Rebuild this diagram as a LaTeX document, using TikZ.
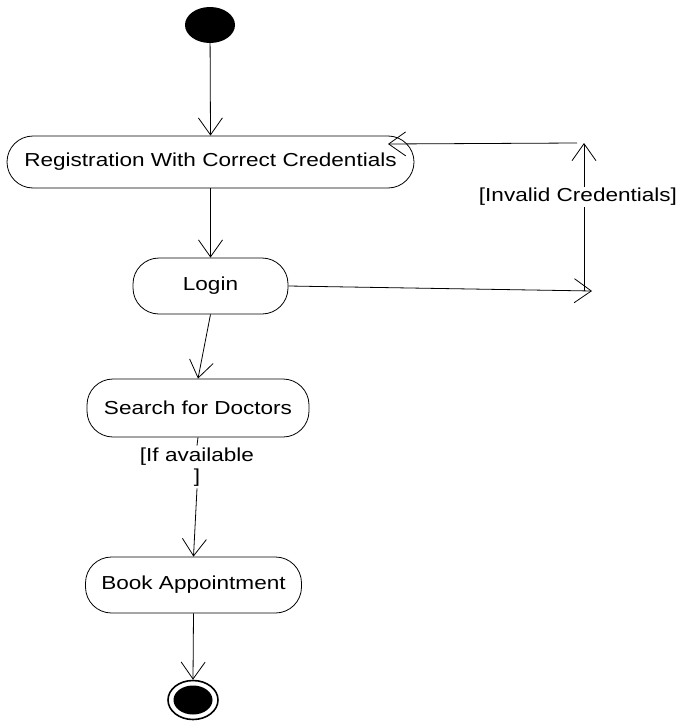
\documentclass[tikz,border=0pt]{standalone}
\usepackage{fontspec}
\setmainfont{Liberation Sans}[FakeStretch=1.2]
\usetikzlibrary{arrows.meta,shapes.geometric}
\begin{document}
\begin{tikzpicture}[x=1pt,y=-1pt,
  txt/.style={font=\fontsize{18.8}{21}\selectfont},
  act/.style={draw, line width=0.8pt, rounded corners=26pt, inner sep=0pt, txt},
  arr/.style={line width=0.8pt, -{Straight Barb[length=17pt,width=24pt,line width=0.8pt]}},
  ln/.style={line width=0.8pt}]
\useasboundingbox (0,0) rectangle (684,725);
% start / end
\node[fill=black, ellipse, minimum width=50pt, minimum height=36pt, inner sep=0pt] (start) at (210,25) {};
\node[act, minimum width=407pt, minimum height=52pt] (reg) at (210.5,162) {Registration With Correct Credentials};
\node[act, minimum width=155pt, minimum height=56pt] (login) at (210.5,286) {Login};
\node[act, minimum width=222pt, minimum height=58pt] (search) at (198,408) {Search for Doctors};
\node[act, minimum width=216pt, minimum height=56pt] (book) at (193.5,585) {Book Appointment};
\node[draw, line width=1.6pt, ellipse, minimum width=50pt, minimum height=39pt, inner sep=0pt] (fin) at (193,700) {};
\node[fill=black, ellipse, minimum width=39pt, minimum height=29pt, inner sep=0pt] at (fin) {};
% loop coordinates
\coordinate (lr) at (592,291);
\coordinate (lb) at (584,291);
\coordinate (lt) at (584,143);
\coordinate (ltl) at (577,143);
\coordinate (regin) at (388,144);
% edges
\draw[arr] (start) -- (reg.north);
\draw[arr] (reg.south) -- (login.north);
\draw[arr] (login.east) -- (lr);
\draw[arr] (lb) -- (lt);
\draw[arr] (ltl) -- (regin);
\node[txt, fill=white, inner sep=1pt] (inv) at (578,197) {[Invalid Credentials]};
\draw[arr] (login.south) -- (search.north);
\node[txt, align=center, inner sep=2pt] (avail) at (197,467) {[If available\\]};
\draw[ln] (search.south) -- (avail.north);
\draw[arr] (avail.south) -- (book.north);
\draw[arr] (book.south) -- (fin.north);
\end{tikzpicture}
\end{document}
